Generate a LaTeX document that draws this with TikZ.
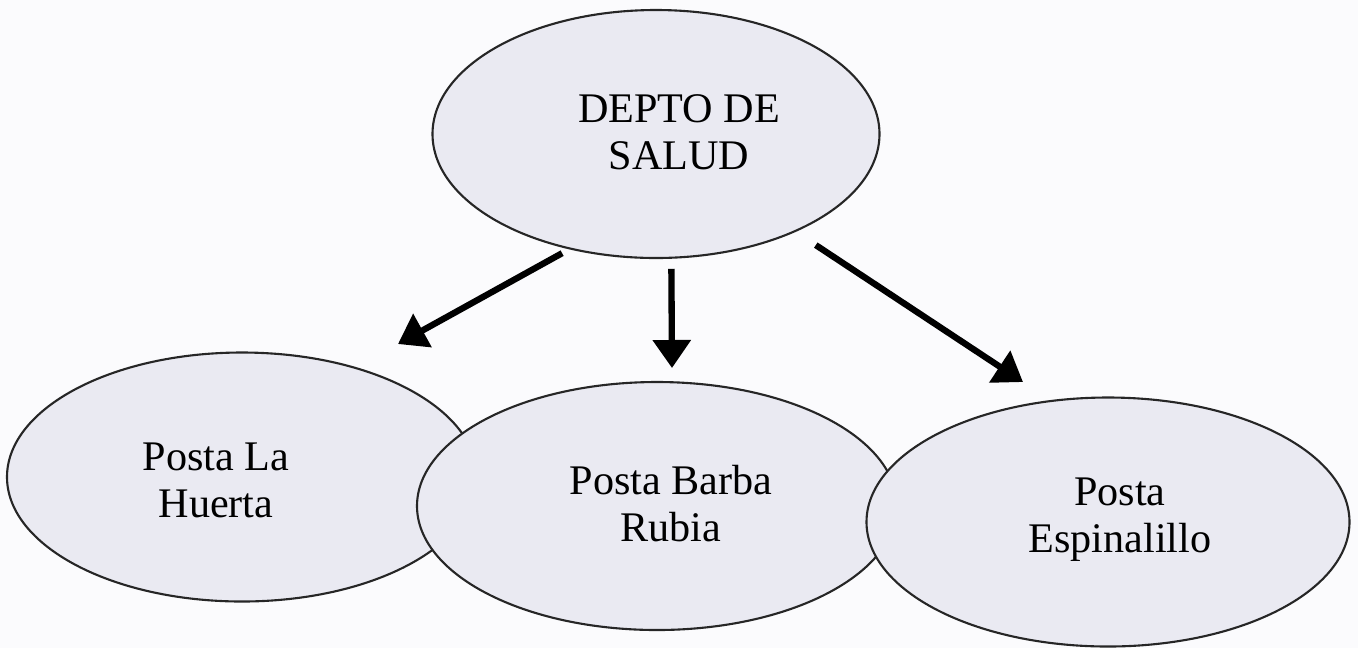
\documentclass[tikz,border=0pt]{standalone}
\usepackage{fontspec}
\setmainfont{Liberation Serif}
\usetikzlibrary{arrows.meta,shapes.geometric,calc}
\definecolor{pagebg}{RGB}{251,251,253}
\definecolor{bubblefill}{RGB}{234,234,242}

\begin{document}
\begin{tikzpicture}[x=0.1mm,y=-0.1mm]
    \tikzset{bubble/.style = {ellipse, draw = black!85, line width = 0.6pt,
        fill = bubblefill, inner sep = 0pt},
      txt/.style = {align = center, inner sep = 0pt,
        font = \fontsize{12}{13.4}\selectfont},
      link/.style = {line width = 1.8pt,
        -{Triangle[length=2.8mm,width=3.7mm]}}}
    \fill[pagebg] (0,0) rectangle (1358,648);
    \useasboundingbox (0,0) rectangle (1358,648);
    % top
    \node[bubble, minimum width=44.7mm, minimum height=24.8mm] (depto) at (656,134) {};
    \node[txt] (deptotxt) at (679,132) {DEPTO DE\\SALUD};
    % postas
    \node[bubble, minimum width=47mm, minimum height=24.9mm] (huerta) at (242,477) {};
    \node[txt] (huertatxt) at (216,480) {Posta La\\Huerta};
    \node[bubble, minimum width=48mm, minimum height=24.8mm] (barba) at (657,506) {};
    \node[txt] (barbatxt) at (671,504) {Posta Barba\\Rubia};
    \node[bubble, minimum width=48.3mm, minimum height=24.9mm] (espin) at (1108,522) {};
    \node[txt] (espintxt) at (1120,520) {Posta\\Espinalillo};
    % arrow ends
    \coordinate (tipA) at (398,344);
    \coordinate (tipB) at (672,368);
    \coordinate (tipC) at (1023,382);
    \draw[link, shorten <=0.8mm] (depto.233) -- (tipA);
    \draw[link, shorten <=1mm] (depto.277) -- (tipB);
    \draw[link, shorten <=2.4mm] (depto.325) -- (tipC);
  \end{tikzpicture}
\end{document}
